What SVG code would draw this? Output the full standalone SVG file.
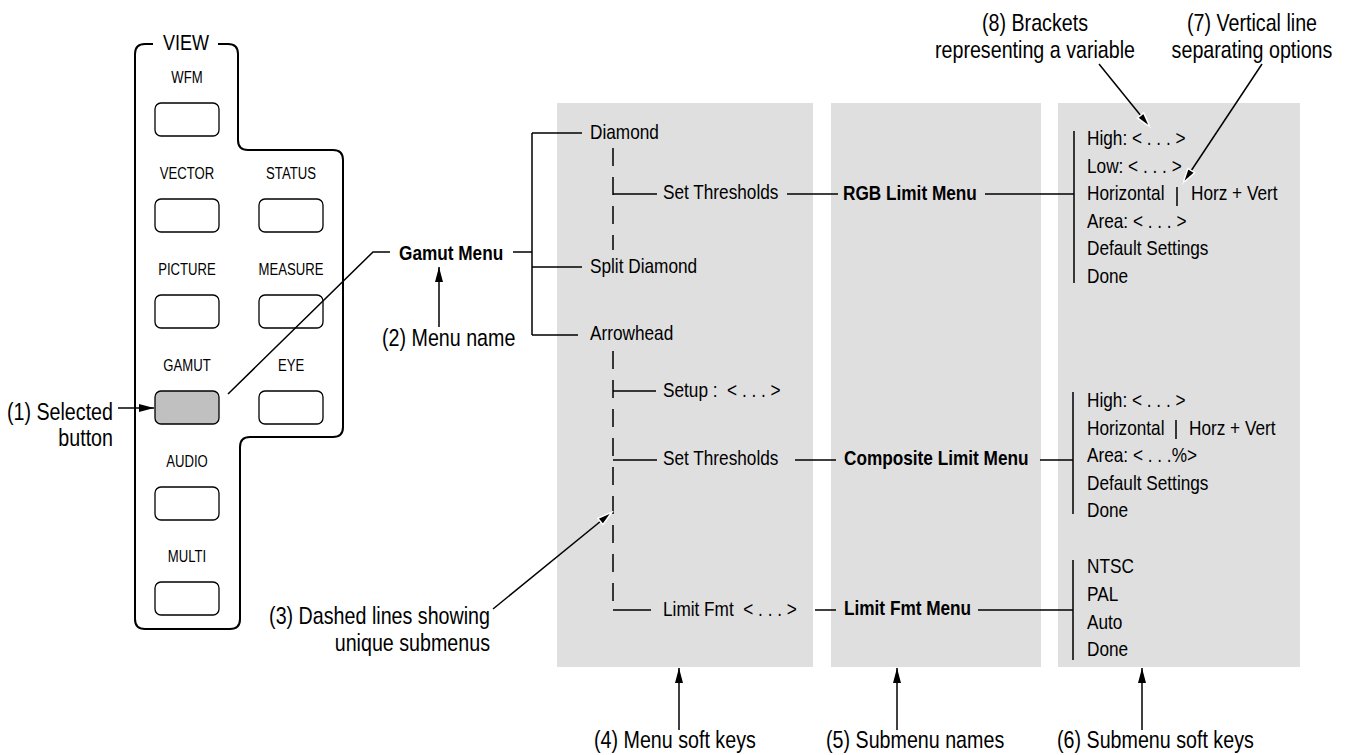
<svg xmlns="http://www.w3.org/2000/svg" width="1345" height="755" viewBox="0 0 1345 755">
<defs>
<style>
.f{font-family:"Liberation Sans Narrow","Liberation Sans",Arial,sans-serif;fill:#000}
.btn{font-size:16px;text-anchor:middle}
.m{font-size:21px}
.b{font-size:21px;font-weight:bold}
.a{font-size:24px}
.e{text-anchor:end}
.c{text-anchor:middle}
.ln{stroke:#000;stroke-width:1.5;fill:none}
.dash{stroke:#000;stroke-width:1.5;stroke-dasharray:18 11;fill:none}
.col{fill:#dfdfdf}
.key{fill:#fff;stroke:#000;stroke-width:1.3}
.sel{fill:#c0c0c0;stroke:#000;stroke-width:1.3}
.arr{stroke:#000;stroke-width:1.5;fill:none;marker-end:url(#ah)}
.arrh{stroke:#000;stroke-width:1.5;fill:none;marker-end:url(#ahw)}
</style>
<marker id="ah" viewBox="0 0 15 8" refX="15" refY="4" markerWidth="15" markerHeight="8" orient="auto" markerUnits="userSpaceOnUse">
<path d="M0,0 L15,4 L0,8 z" fill="#000"/>
</marker>
<marker id="ahw" viewBox="-2 -2 19 12" refX="15" refY="4" markerWidth="19" markerHeight="12" orient="auto" markerUnits="userSpaceOnUse">
<path d="M0,0 L15,4 L0,8 z" fill="#000" stroke="#fff" stroke-width="1.5"/>
</marker>
</defs>
<rect width="1345" height="755" fill="#fff"/>

<g id="columns">
<rect class="col" x="557" y="103" width="256" height="564"/>
<rect class="col" x="831" y="103" width="210" height="564"/>
<rect class="col" x="1058" y="103" width="242" height="564"/>
</g>

<g id="view-panel">
<path class="ln" style="stroke-width:2" d="M153,44 H145 Q135,44 135,54 V619 Q135,629 145,629 H230 Q240,629 240,619 V447 Q240,437 250,437 H333 Q343,437 343,427 V160 Q343,150 333,150 H248 Q238,150 238,140 V54 Q238,44 228,44 H218"/>
<text class="f c" font-size="22" transform="matrix(.82 0 0 1 186 50)">VIEW</text>
<g id="btn-wfm"><text class="f btn" transform="matrix(.82 0 0 1 187 83)">WFM</text><rect class="key" x="155" y="103" width="64" height="33" rx="6"/></g>
<g id="btn-vector"><text class="f btn" transform="matrix(.82 0 0 1 187 179)">VECTOR</text><rect class="key" x="155" y="199" width="64" height="33" rx="6"/></g>
<g id="btn-status"><text class="f btn" transform="matrix(.82 0 0 1 291 179)">STATUS</text><rect class="key" x="259" y="199" width="64" height="33" rx="6"/></g>
<g id="btn-picture"><text class="f btn" transform="matrix(.82 0 0 1 187 275)">PICTURE</text><rect class="key" x="155" y="295" width="64" height="33" rx="6"/></g>
<g id="btn-measure"><text class="f btn" transform="matrix(.82 0 0 1 291 275)">MEASURE</text><rect class="key" x="259" y="295" width="64" height="33" rx="6"/></g>
<g id="btn-gamut"><text class="f btn" transform="matrix(.82 0 0 1 187 371)">GAMUT</text><rect class="sel" x="155" y="391" width="64" height="33" rx="6"/></g>
<g id="btn-eye"><text class="f btn" transform="matrix(.82 0 0 1 291 371)">EYE</text><rect class="key" x="259" y="391" width="64" height="33" rx="6"/></g>
<g id="btn-audio"><text class="f btn" transform="matrix(.82 0 0 1 187 467)">AUDIO</text><rect class="key" x="155" y="487" width="64" height="33" rx="6"/></g>
<g id="btn-multi"><text class="f btn" transform="matrix(.82 0 0 1 187 562)">MULTI</text><rect class="key" x="155" y="582" width="64" height="33" rx="6"/></g>
</g>

<g id="connectors">
<path class="ln" d="M228,394 L373,252 H390"/>
<path class="ln" d="M513,252 H532 M532,133 V335 M532,133 H582 M532,267 H582 M532,335 H578"/>
<path class="dash" d="M613,148 V250"/>
<path class="ln" d="M613,194 H657"/>
<path class="ln" d="M787,194 H838"/>
<path class="ln" d="M985,194 H1074 M1074,131 V283"/>
<path class="dash" d="M613,351 V610"/>
<path class="ln" d="M613,391 H656 M613,460 H657 M613,610 H651"/>
<path class="ln" d="M795,460 H836 M1040,460 H1073 M1073,392 V514"/>
<path class="ln" d="M815,610 H836 M978,610 H1073 M1073,560 V660"/>
<path class="ln" d="M1177,187 V206 M1176,420 V439"/>
</g>

<g id="gamut-menu"><text class="f b" transform="matrix(.82 0 0 1 399 260)">Gamut Menu</text></g>

<g id="menu-soft-keys">
<text class="f m" transform="matrix(.82 0 0 1 590 139)">Diamond</text>
<text class="f m" transform="matrix(.82 0 0 1 663 199)">Set Thresholds</text>
<text class="f m" transform="matrix(.82 0 0 1 590 273)">Split Diamond</text>
<text class="f m" transform="matrix(.82 0 0 1 590 340)">Arrowhead</text>
<text class="f m" transform="matrix(.82 0 0 1 663 397)" xml:space="preserve">Setup :  &lt; . . . &gt;</text>
<text class="f m" transform="matrix(.82 0 0 1 663 465)">Set Thresholds</text>
<text class="f m" transform="matrix(.82 0 0 1 663 616)" xml:space="preserve">Limit Fmt  &lt; . . . &gt;</text>
</g>

<g id="submenu-names">
<text class="f b" transform="matrix(.82 0 0 1 843 200)">RGB Limit Menu</text>
<text class="f b" transform="matrix(.82 0 0 1 844 465)">Composite Limit Menu</text>
<text class="f b" transform="matrix(.82 0 0 1 844 615)">Limit Fmt Menu</text>
</g>

<g id="rgb-soft-keys">
<text class="f m" transform="matrix(.82 0 0 1 1087 145)">High: &lt; . . . &gt;</text>
<text class="f m" transform="matrix(.82 0 0 1 1087 173)">Low: &lt; . . . &gt;</text>
<text class="f m" transform="matrix(.82 0 0 1 1087 200)">Horizontal</text>
<text class="f m" transform="matrix(.82 0 0 1 1191 200)">Horz + Vert</text>
<text class="f m" transform="matrix(.82 0 0 1 1087 228)">Area: &lt; . . . &gt;</text>
<text class="f m" transform="matrix(.82 0 0 1 1087 255)">Default Settings</text>
<text class="f m" transform="matrix(.82 0 0 1 1087 283)">Done</text>
</g>

<g id="composite-soft-keys">
<text class="f m" transform="matrix(.82 0 0 1 1087 407)">High: &lt; . . . &gt;</text>
<text class="f m" transform="matrix(.82 0 0 1 1087 435)">Horizontal</text>
<text class="f m" transform="matrix(.82 0 0 1 1189 435)">Horz + Vert</text>
<text class="f m" transform="matrix(.82 0 0 1 1087 462)">Area: &lt; . . .%&gt;</text>
<text class="f m" transform="matrix(.82 0 0 1 1087 490)">Default Settings</text>
<text class="f m" transform="matrix(.82 0 0 1 1087 517)">Done</text>
</g>

<g id="limitfmt-soft-keys">
<text class="f m" transform="matrix(.82 0 0 1 1087 573)">NTSC</text>
<text class="f m" transform="matrix(.82 0 0 1 1087 601)">PAL</text>
<text class="f m" transform="matrix(.82 0 0 1 1087 629)">Auto</text>
<text class="f m" transform="matrix(.82 0 0 1 1087 656)">Done</text>
</g>

<g id="annotations">
<path class="arr" d="M118,408 H154"/>
<text class="f a e" transform="matrix(.82 0 0 1 113 420)">(1) Selected</text>
<text class="f a e" transform="matrix(.82 0 0 1 113 446)">button</text>
<path class="arr" d="M439,327 V267"/>
<text class="f a" transform="matrix(.82 0 0 1 382 346)">(2) Menu name</text>
<path class="arrh" d="M493,609 L612,512"/>
<text class="f a e" transform="matrix(.82 0 0 1 490 624)">(3) Dashed lines showing</text>
<text class="f a e" transform="matrix(.82 0 0 1 490 651)">unique submenus</text>
<path class="arr" d="M679,730 V668"/>
<text class="f a" transform="matrix(.82 0 0 1 594 748)">(4) Menu soft keys</text>
<path class="arr" d="M897,730 V668"/>
<text class="f a" transform="matrix(.82 0 0 1 826 748)">(5) Submenu names</text>
<path class="arr" d="M1142,730 V668"/>
<text class="f a" transform="matrix(.82 0 0 1 1057 748)">(6) Submenu soft keys</text>
<path class="arrh" d="M1262,64 L1183,183"/>
<text class="f a c" transform="matrix(.82 0 0 1 1252 31)">(7) Vertical line</text>
<text class="f a c" transform="matrix(.82 0 0 1 1252 58)">separating options</text>
<path class="arrh" d="M1099,64 L1150,127"/>
<text class="f a c" transform="matrix(.82 0 0 1 1035 31)">(8) Brackets</text>
<text class="f a c" transform="matrix(.82 0 0 1 1035 58)">representing a variable</text>
</g>
</svg>
